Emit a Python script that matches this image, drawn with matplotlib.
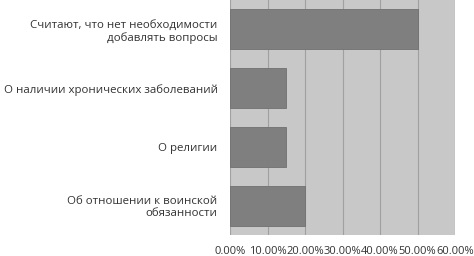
import matplotlib
matplotlib.use("Agg")
import matplotlib.pyplot as plt
from matplotlib.ticker import FuncFormatter

categories = ["Считают, что нет необходимости\nдобавлять вопросы",
              "О наличии хронических заболеваний",
              "О религии",
              "Об отношении к воинской\nобязанности"]
values = [0.50, 0.15, 0.15, 0.20]
xticks = [0.0, 0.1, 0.2, 0.3, 0.4, 0.5, 0.6]

plt.rcParams['font.family'] = ['Open Sans', 'DejaVu Sans']

fig = plt.figure(figsize=(4.74, 2.56), dpi=100)
ax = fig.add_axes([230/474, 1 - 235/256, 225/474, 235/256])
ax.set_facecolor('#c8c8c8')
y = list(range(len(categories)))
ax.barh(y, values, height=0.68, color='#7f7f7f', edgecolor='#707070', linewidth=0.6, zorder=3)
ax.set_yticks(y)
ax.set_yticklabels(categories, fontsize=8.25, color='#333333', linespacing=1.15)
ax.set_ylim(len(categories) - 0.5, -0.5)
ax.set_xlim(0, 0.6)
ax.set_xticks(xticks)
ax.xaxis.set_major_formatter(FuncFormatter(lambda v, p: f"{v*100:.2f}%"))
ax.tick_params(axis='x', labelsize=8, colors='#333333', length=0, pad=8)
ax.tick_params(axis='y', length=0, pad=9)
ax.grid(axis='x', color='#a0a0a0', linewidth=0.8, zorder=1)
for s in ax.spines.values():
    s.set_visible(False)
fig.savefig("out.png", dpi=100, facecolor='white')
